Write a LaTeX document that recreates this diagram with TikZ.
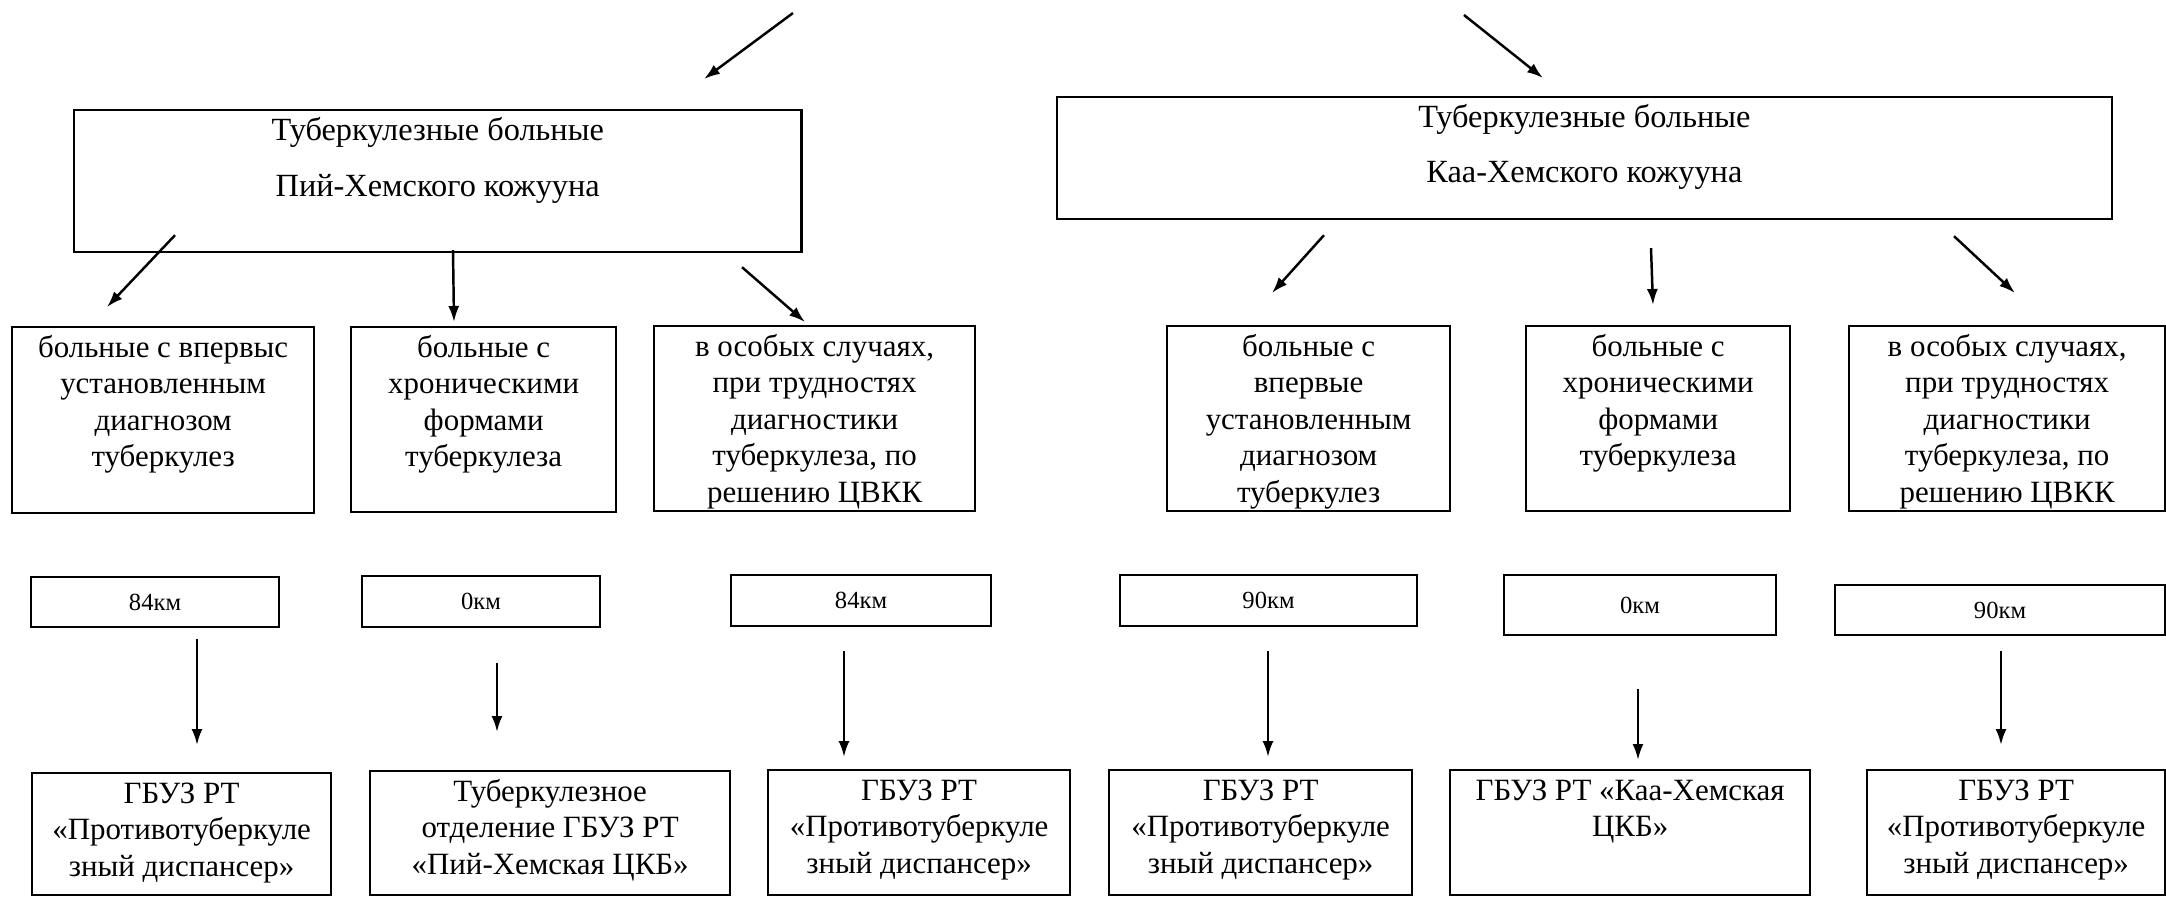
\documentclass[tikz,border=0pt]{standalone}
\usepackage{fontspec}
\setmainfont{Liberation Serif}
\usetikzlibrary{arrows.meta}
\newcommand{\unitsize}{0.01cm}
\newcommand{\boxtext}[3]{\parbox[c][#2][t]{#1}{\centering\rule{0pt}{0.3cm}#3}}
\newcommand{\hdfont}{\fontsize{9.2pt}{15.9pt}\selectfont}
\newcommand{\txtfont}{\fontsize{8.8pt}{10.4pt}\selectfont}
\newcommand{\kmfont}{\fontsize{7pt}{8pt}\selectfont}

\begin{document}
\begin{tikzpicture}[x=\unitsize,y=-\unitsize]
\useasboundingbox (0,0) rectangle (2166,896);
\tikzstyle{every node}=[draw,
			rectangle,
			anchor=north west,
			inner sep=0pt,
			line width=0.6pt
			]
\tikzstyle{arr}=[line width=0.7pt, -{Latex[length=1.6mm,width=1.1mm]}]


\node[font=\hdfont] (pij) at (73,109) {\boxtext{7.27cm}{1.42cm}{Туберкулезные больные\\Пий-Хемского кожууна}};
    

\node[font=\hdfont] (kaa) at (1056,96) {\boxtext{10.54cm}{1.22cm}{Туберкулезные больные\\Каа-Хемского кожууна}};
    

\node[font=\txtfont] (pijA) at (11,326) {\boxtext{3.02cm}{1.86cm}{больные с впервыс\\установленным\\диагнозом\\туберкулез}};
    

\node[font=\txtfont] (pijB) at (350,326) {\boxtext{2.65cm}{1.85cm}{больные с\\хроническими\\формами\\туберкулеза}};
    

\node[font=\txtfont] (pijC) at (653,325) {\boxtext{3.21cm}{1.85cm}{в особых случаях,\\при трудностях\\диагностики\\туберкулеза, по\\решению ЦВКК}};
    

\node[font=\txtfont] (kaaA) at (1166,325) {\boxtext{2.83cm}{1.85cm}{больные с\\впервые\\установленным\\диагнозом\\туберкулез}};
    

\node[font=\txtfont] (kaaB) at (1525,325) {\boxtext{2.64cm}{1.85cm}{больные с\\хроническими\\формами\\туберкулеза}};
    

\node[font=\txtfont] (kaaC) at (1848,325) {\boxtext{3.16cm}{1.85cm}{в особых случаях,\\при трудностях\\диагностики\\туберкулеза, по\\решению ЦВКК}};
    

\node[font=\kmfont, minimum width=248*\unitsize, minimum height=50*\unitsize] (kmPA) at (30,576) {84км};
        

\node[font=\kmfont, minimum width=238*\unitsize, minimum height=51*\unitsize] (kmPB) at (361,575) {0км};
        

\node[font=\kmfont, minimum width=260*\unitsize, minimum height=51*\unitsize] (kmPC) at (730,574) {84км};
        

\node[font=\kmfont, minimum width=297*\unitsize, minimum height=51*\unitsize] (kmKA) at (1119,574) {90км};
        

\node[font=\kmfont, minimum width=272*\unitsize, minimum height=60*\unitsize] (kmKB) at (1503,574) {0км};
        

\node[font=\kmfont, minimum width=330*\unitsize, minimum height=50*\unitsize] (kmKC) at (1834,584) {90км};
        

\node[font=\txtfont] (dstPA) at (31,772) {\boxtext{2.99cm}{1.22cm}{ГБУЗ РТ\\«Противотуберкуле\\зный диспансер»}};
            

\node[font=\txtfont] (dstPB) at (369,770) {\boxtext{3.60cm}{1.24cm}{Туберкулезное\\отделение ГБУЗ РТ\\«Пий-Хемская ЦКБ»}};
            

\node[font=\txtfont] (dstPC) at (767,769) {\boxtext{3.02cm}{1.25cm}{ГБУЗ РТ\\«Противотуберкуле\\зный диспансер»}};
            

\node[font=\txtfont] (dstKA) at (1108,769) {\boxtext{3.03cm}{1.25cm}{ГБУЗ РТ\\«Противотуберкуле\\зный диспансер»}};
            

\node[font=\txtfont] (dstKB) at (1449,769) {\boxtext{3.60cm}{1.25cm}{ГБУЗ РТ «Каа-Хемская\\ЦКБ»}};
            

\node[font=\txtfont] (dstKC) at (1866,769) {\boxtext{2.98cm}{1.25cm}{ГБУЗ РТ\\«Противотуберкуле\\зный диспансер»}};
            

\coordinate (inP) at (793,13);
\coordinate (inK) at (1464,15);

\draw[arr] (inP) -- ([shift={(631,-30)}]pij.north west);
\draw[arr] (inK) -- ([shift={(487,-18)}]kaa.north west);

\draw[arr] ([shift={(102,-18)}]pij.south west) -- ([shift={(96,-19)}]pijA.north west);
\draw[arr] ([shift={(380,-3)}]pij.south west) -- ([shift={(104,-4)}]pijB.north west);
\draw[arr] ([shift={(669,14)}]pij.south west) -- ([shift={(152,-3)}]pijC.north west);

\draw[arr] ([shift={(268,15)}]kaa.south west) -- ([shift={(106,-32)}]kaaA.north west);
\draw[arr] ([shift={(595,28)}]kaa.south west) -- ([shift={(128,-20)}]kaaB.north west);
\draw[arr] ([shift={(898,16)}]kaa.south west) -- ([shift={(167,-32)}]kaaC.north west);

\draw[arr] ([shift={(167,11)}]kmPA.south west) -- ([shift={(166,-27)}]dstPA.north west);
\draw[arr] ([shift={(136,35)}]kmPB.south west) -- ([shift={(128,-38)}]dstPB.north west);
\draw[arr] ([shift={(114,24)}]kmPC.south west) -- ([shift={(77,-12)}]dstPC.north west);
\draw[arr] ([shift={(149,24)}]kmKA.south west) -- ([shift={(160,-12)}]dstKA.north west);
\draw[arr] ([shift={(135,53)}]kmKB.south west) -- ([shift={(189,-9)}]dstKB.north west);
\draw[arr] ([shift={(167,15)}]kmKC.south west) -- ([shift={(135,-24)}]dstKC.north west);

\end{tikzpicture}
\end{document}
